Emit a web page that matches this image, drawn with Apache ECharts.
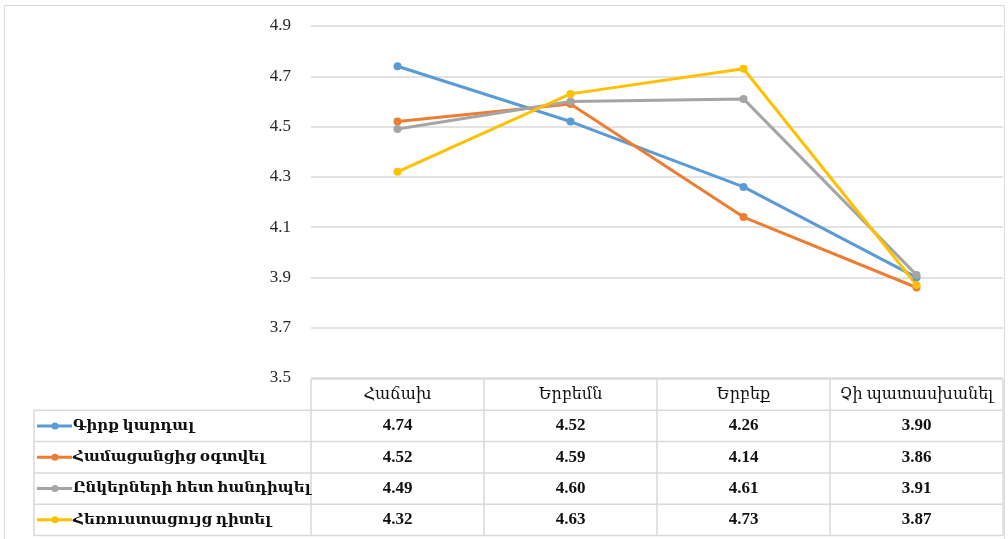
<!DOCTYPE html>
<html>
<head>
<meta charset="utf-8">
<script src="https://cdn.jsdelivr.net/npm/echarts@6/dist/echarts.min.js"></script>
<style>
  html, body { margin: 0; padding: 0; background: #fff; }
  #main { width: 1008px; height: 539px; }
</style>
</head>
<body>
<div id="main"></div>
<script>
// data
var categories = ['Հաճախ', 'Երբեմն', 'Երբեք', 'Չի պատասխանել'];
var seriesNames = ['Գիրք կարդալ', 'Համացանցից օգտվել', 'Ընկերների հետ հանդիպել', 'Հեռուստացույց դիտել'];
var readBooks = [4.74, 4.52, 4.26, 3.90];
var useInternet = [4.52, 4.59, 4.14, 3.86];
var meetFriends = [4.49, 4.60, 4.61, 3.91];
var watchTv = [4.32, 4.63, 4.73, 3.87];
var yTicks = [3.5, 3.7, 3.9, 4.1, 4.3, 4.5, 4.7, 4.9];

var values = [readBooks, useInternet, meetFriends, watchTv];
var colors = ['#5B9BD5', '#ED7D31', '#A5A5A5', '#FFC000'];

// layout
var gridL = 311, gridR = 1003, gridT = 26, gridB = 378;
var keyLeft = 34;
var headTop = 379, rowH = 31.3;
var cellW = (gridR - gridL) / categories.length;
var lineCol = '#d9d9d9';
var serif = '"Liberation Serif", "DejaVu Serif", serif';

var graphic = [];
graphic.push({ type: 'rect', shape: { x: 4.5, y: 5.5, width: 1000, height: 545 },
    style: { fill: 'none', stroke: lineCol, lineWidth: 1 }, silent: true });

function hline(x1, x2, y) {
    graphic.push({ type: 'line', shape: { x1: x1, y1: y, x2: x2, y2: y },
        style: { stroke: lineCol, lineWidth: 1.5 }, silent: true });
}
function vline(x, y1, y2) {
    graphic.push({ type: 'line', shape: { x1: x, y1: y1, x2: x, y2: y2 },
        style: { stroke: lineCol, lineWidth: 1.5 }, silent: true });
}

var nRows = seriesNames.length;
var tableBottom = headTop + rowH * (nRows + 1);
hline(gridL, gridR, headTop);
for (var r = 1; r <= nRows + 1; r++) hline(keyLeft, gridR, headTop + rowH * r);
for (var c = 0; c <= categories.length; c++) vline(gridL + cellW * c, headTop, tableBottom);
vline(keyLeft, headTop + rowH, tableBottom);

// header
categories.forEach(function (cat, i) {
    graphic.push({ type: 'text', x: gridL + cellW * (i + 0.5), y: headTop + rowH / 2,
        style: { text: cat, fill: '#111', font: '16px ' + serif, align: 'center', verticalAlign: 'middle' } });
});

// rows
seriesNames.forEach(function (name, r) {
    var cy = headTop + rowH * (r + 1.5);
    graphic.push({ type: 'line', shape: { x1: keyLeft + 3, y1: cy, x2: keyLeft + 38, y2: cy },
        style: { stroke: colors[r], lineWidth: 3 } });
    graphic.push({ type: 'circle', shape: { cx: keyLeft + 21, cy: cy, r: 3.5 },
        style: { fill: colors[r] } });
    graphic.push({ type: 'text', x: keyLeft + 39, y: cy,
        style: { text: name, fill: '#111', font: 'bold 15px ' + serif, align: 'left', verticalAlign: 'middle' } });
    values[r].forEach(function (v, i) {
        graphic.push({ type: 'text', x: gridL + cellW * (i + 0.5), y: cy,
            style: { text: v.toFixed(2), fill: '#111', font: 'bold 17px ' + serif, align: 'center', verticalAlign: 'middle' } });
    });
});

var chart = echarts.init(document.getElementById('main'));
chart.setOption({
    animation: false,
    grid: { left: gridL, right: 1008 - gridR, top: gridT, bottom: 539 - gridB, containLabel: false },
    xAxis: {
        type: 'category', data: categories, boundaryGap: true,
        axisLine: { show: false }, axisTick: { show: false }, axisLabel: { show: false }
    },
    yAxis: {
        type: 'value', min: yTicks[0], max: yTicks[yTicks.length - 1], interval: 0.2,
        axisLine: { show: false }, axisTick: { show: false },
        splitLine: { lineStyle: { color: lineCol, width: 1.5 } },
        axisLabel: { margin: 20, color: '#262626', fontSize: 17, fontFamily: serif,
            formatter: function (v) { return v.toFixed(1); } }
    },
    series: seriesNames.map(function (name, i) {
        return {
            name: name, type: 'line', data: values[i],
            symbol: 'circle', symbolSize: 8,
            lineStyle: { color: colors[i], width: 3 },
            itemStyle: { color: colors[i] }
        };
    }),
    graphic: graphic
});
</script>
</body>
</html>
